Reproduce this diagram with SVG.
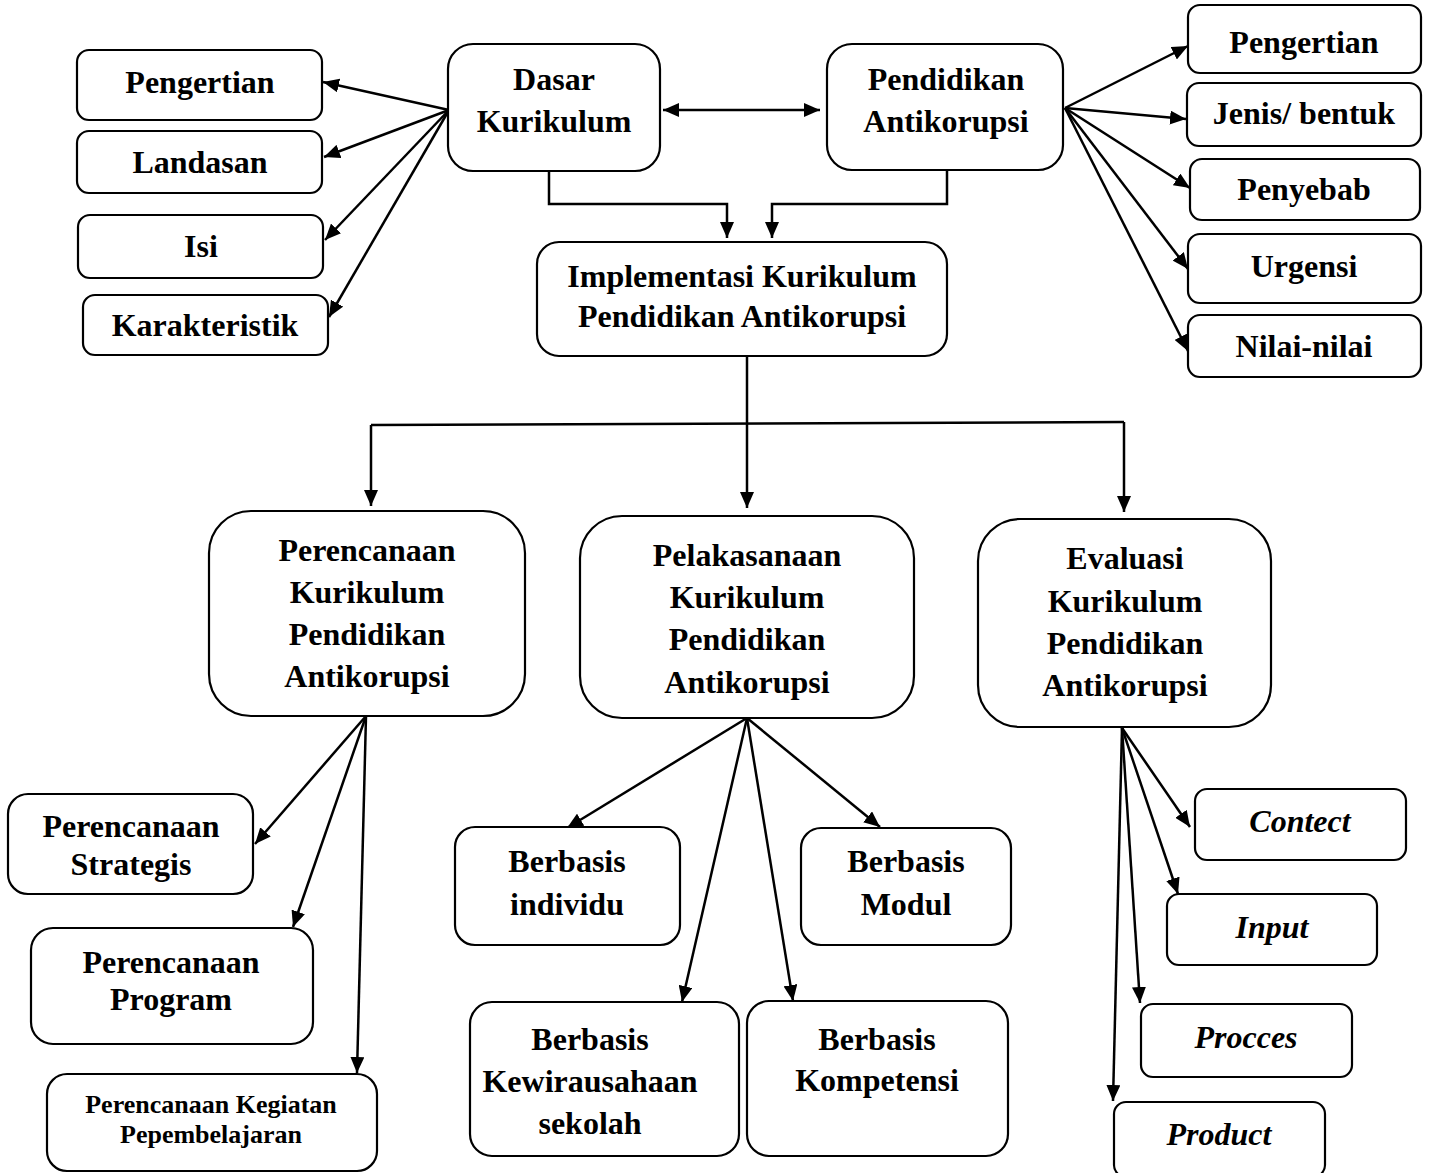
<svg xmlns="http://www.w3.org/2000/svg" width="1432" height="1173" viewBox="0 0 1432 1173">
<defs>
<style>
.b{fill:#fff;stroke:#000;stroke-width:2.2}
.t{font-family:"Liberation Serif","Times New Roman",serif;font-weight:bold;font-size:32px;text-anchor:middle;fill:#000}
.s{font-size:26px}
.i{font-style:italic}
.c{fill:none;stroke:#000;stroke-width:2.5}
</style>
<marker id="ah" markerUnits="userSpaceOnUse" markerWidth="16" markerHeight="14" refX="16" refY="7" orient="auto-start-reverse">
<path d="M0,0 L16,7 L0,14 z" fill="#000"/>
</marker>
</defs>
<rect width="1432" height="1173" fill="#fff"/>

<g id="connectors">
<line class="c" x1="449" y1="110" x2="323" y2="82" marker-end="url(#ah)"/>
<line class="c" x1="449" y1="110" x2="324" y2="157" marker-end="url(#ah)"/>
<line class="c" x1="449" y1="110" x2="325" y2="240" marker-end="url(#ah)"/>
<line class="c" x1="449" y1="110" x2="329" y2="317" marker-end="url(#ah)"/>
<line class="c" x1="663" y1="110" x2="820" y2="110" marker-start="url(#ah)" marker-end="url(#ah)"/>
<polyline class="c" points="549,171 549,204 727,204 727,238" marker-end="url(#ah)"/>
<polyline class="c" points="947,170 947,204 772,204 772,238" marker-end="url(#ah)"/>
<line class="c" x1="1065" y1="108" x2="1188" y2="46" marker-end="url(#ah)"/>
<line class="c" x1="1065" y1="108" x2="1186" y2="119" marker-end="url(#ah)"/>
<line class="c" x1="1065" y1="108" x2="1190" y2="188" marker-end="url(#ah)"/>
<line class="c" x1="1065" y1="108" x2="1188" y2="269" marker-end="url(#ah)"/>
<line class="c" x1="1065" y1="108" x2="1188" y2="351" marker-end="url(#ah)"/>
<line class="c" x1="747" y1="356" x2="747" y2="508" marker-end="url(#ah)"/>
<polyline class="c" points="371,425 1124,422"/>
<line class="c" x1="371" y1="425" x2="371" y2="506" marker-end="url(#ah)"/>
<line class="c" x1="1124" y1="422" x2="1124" y2="512" marker-end="url(#ah)"/>
<line class="c" x1="366" y1="716" x2="255" y2="844" marker-end="url(#ah)"/>
<line class="c" x1="366" y1="716" x2="293" y2="927" marker-end="url(#ah)"/>
<line class="c" x1="366" y1="716" x2="357" y2="1073" marker-end="url(#ah)"/>
<line class="c" x1="747" y1="718" x2="567" y2="828" marker-end="url(#ah)"/>
<line class="c" x1="747" y1="718" x2="880" y2="827" marker-end="url(#ah)"/>
<line class="c" x1="747" y1="718" x2="682" y2="1002" marker-end="url(#ah)"/>
<line class="c" x1="747" y1="718" x2="793" y2="1001" marker-end="url(#ah)"/>
<line class="c" x1="1122" y1="728" x2="1190" y2="827" marker-end="url(#ah)"/>
<line class="c" x1="1122" y1="728" x2="1178" y2="894" marker-end="url(#ah)"/>
<line class="c" x1="1122" y1="728" x2="1140" y2="1003" marker-end="url(#ah)"/>
<line class="c" x1="1122" y1="728" x2="1113" y2="1101" marker-end="url(#ah)"/>
</g>

<g id="n-pengertian1"><rect class="b" x="77" y="50" width="245" height="70" rx="12"/><text class="t" x="200" y="93">Pengertian</text></g>
<g id="n-landasan"><rect class="b" x="77" y="131" width="245" height="62" rx="12"/><text class="t" x="200" y="173">Landasan</text></g>
<g id="n-isi"><rect class="b" x="78" y="215" width="245" height="63" rx="12"/><text class="t" x="201" y="257">Isi</text></g>
<g id="n-karakteristik"><rect class="b" x="83" y="295" width="245" height="60" rx="12"/><text class="t" x="205" y="336">Karakteristik</text></g>

<g id="n-dasar"><rect class="b" x="448" y="44" width="212" height="127" rx="25"/><text class="t" x="554" y="90">Dasar</text><text class="t" x="554" y="132">Kurikulum</text></g>
<g id="n-pendidikan"><rect class="b" x="827" y="44" width="236" height="126" rx="25"/><text class="t" x="946" y="90">Pendidikan</text><text class="t" x="946" y="132">Antikorupsi</text></g>

<g id="n-pengertian2"><rect class="b" x="1188" y="5" width="233" height="68" rx="12"/><text class="t" x="1304" y="53">Pengertian</text></g>
<g id="n-jenis"><rect class="b" x="1187" y="83" width="234" height="63" rx="12"/><text class="t" x="1304" y="124">Jenis/ bentuk</text></g>
<g id="n-penyebab"><rect class="b" x="1190" y="159" width="230" height="61" rx="12"/><text class="t" x="1304" y="200">Penyebab</text></g>
<g id="n-urgensi"><rect class="b" x="1188" y="234" width="233" height="69" rx="12"/><text class="t" x="1304" y="277">Urgensi</text></g>
<g id="n-nilai"><rect class="b" x="1188" y="315" width="233" height="62" rx="12"/><text class="t" x="1304" y="357">Nilai-nilai</text></g>

<g id="n-implementasi"><rect class="b" x="537" y="242" width="410" height="114" rx="22"/><text class="t" x="742" y="287">Implementasi Kurikulum</text><text class="t" x="742" y="327">Pendidikan Antikorupsi</text></g>

<g id="n-perencanaan"><rect class="b" x="209" y="511" width="316" height="205" rx="42"/><text class="t" x="367" y="561">Perencanaan</text><text class="t" x="367" y="603">Kurikulum</text><text class="t" x="367" y="645">Pendidikan</text><text class="t" x="367" y="687">Antikorupsi</text></g>
<g id="n-pelaksanaan"><rect class="b" x="580" y="516" width="334" height="202" rx="42"/><text class="t" x="747" y="566">Pelakasanaan</text><text class="t" x="747" y="608">Kurikulum</text><text class="t" x="747" y="650">Pendidikan</text><text class="t" x="747" y="693">Antikorupsi</text></g>
<g id="n-evaluasi"><rect class="b" x="978" y="519" width="293" height="208" rx="42"/><text class="t" x="1125" y="569">Evaluasi</text><text class="t" x="1125" y="612">Kurikulum</text><text class="t" x="1125" y="654">Pendidikan</text><text class="t" x="1125" y="696">Antikorupsi</text></g>

<g id="n-strategis"><rect class="b" x="8" y="794" width="245" height="100" rx="20"/><text class="t" x="131" y="837">Perencanaan</text><text class="t" x="131" y="875">Strategis</text></g>
<g id="n-program"><rect class="b" x="31" y="928" width="282" height="116" rx="22"/><text class="t" x="171" y="973">Perencanaan</text><text class="t" x="171" y="1010">Program</text></g>
<g id="n-kegiatan"><rect class="b" x="47" y="1074" width="330" height="97" rx="20"/><text class="t s" x="211" y="1113">Perencanaan Kegiatan</text><text class="t s" x="211" y="1143">Pepembelajaran</text></g>

<g id="n-individu"><rect class="b" x="455" y="827" width="225" height="118" rx="20"/><text class="t" x="567" y="872">Berbasis</text><text class="t" x="567" y="915">individu</text></g>
<g id="n-modul"><rect class="b" x="801" y="828" width="210" height="117" rx="20"/><text class="t" x="906" y="872">Berbasis</text><text class="t" x="906" y="915">Modul</text></g>
<g id="n-kewirausahaan"><rect class="b" x="470" y="1002" width="269" height="154" rx="22"/><text class="t" x="590" y="1050">Berbasis</text><text class="t" x="590" y="1092">Kewirausahaan</text><text class="t" x="590" y="1134">sekolah</text></g>
<g id="n-kompetensi"><rect class="b" x="747" y="1001" width="261" height="155" rx="22"/><text class="t" x="877" y="1050">Berbasis</text><text class="t" x="877" y="1091">Kompetensi</text></g>

<g id="n-contect"><rect class="b" x="1195" y="789" width="211" height="71" rx="12"/><text class="t i" x="1300" y="832">Contect</text></g>
<g id="n-input"><rect class="b" x="1167" y="894" width="210" height="71" rx="12"/><text class="t i" x="1272" y="938">Input</text></g>
<g id="n-procces"><rect class="b" x="1141" y="1004" width="211" height="73" rx="12"/><text class="t i" x="1246" y="1048">Procces</text></g>
<g id="n-product"><rect class="b" x="1114" y="1102" width="211" height="75" rx="12"/><text class="t i" x="1219" y="1145">Product</text></g>
</svg>
